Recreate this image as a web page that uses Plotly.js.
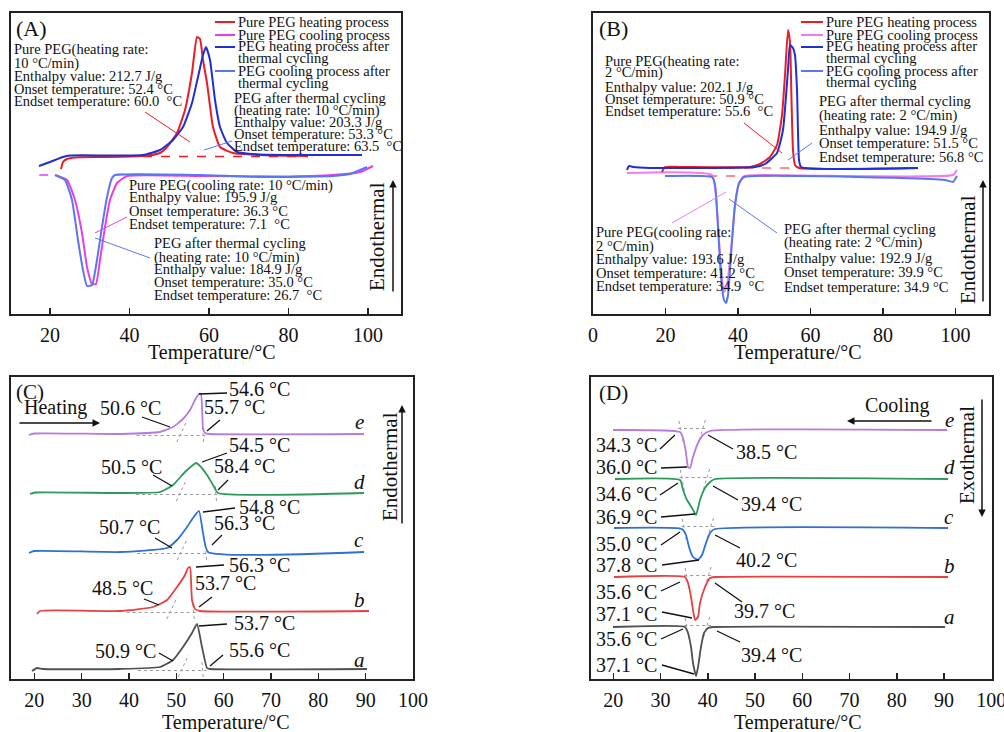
<!DOCTYPE html>
<html><head><meta charset="utf-8">
<script src="https://cdn.plot.ly/plotly-3.0.1.min.js"></script>
<style>html,body{margin:0;padding:0;background:#fff}#chart{width:1004px;height:732px}</style>
</head><body><div id="chart"></div>
<script>
// ================= DATA (temperature in °C, heat flow in arbitrary units) =================
// Panel A : 10 °C/min
const aPureHeatT = [22.77,23.27,24.28,26.29,32.58,43.40,47.67,49.43,51.95,53.96,55.72,56.98,57.74,58.49,59.50,61.01,62.77,66.04,72.83,84.91];
const aPureHeatY = [14.5,15.2,15.5,15.65,15.7,15.8,16.1,16.7,18.1,20.4,24.1,27.7,27.5,25.4,23.1,18.7,16.7,16.1,15.9,15.8];
const aCycHeatT = [17.23,20.0,23.27,25.03,43.40,47.67,50.94,53.46,55.72,57.23,58.49,59.25,60.25,61.51,62.77,64.53,67.04,72.83,98.49];
const aCycHeatY = [14.8,15.2,15.7,15.85,15.9,16.4,17.4,18.7,21.1,23.7,25.9,26.7,25.4,21.4,18.7,17.1,16.2,15.95,15.9];
const aPureCoolT = [21.26,24.28,26.29,28.05,29.31,30.57,31.57,32.58,33.84,35.09,36.86,39.37,57.74,77.86,91.19,97.99,101.26];
const aPureCoolY = [13.9,13.4,11.4,8.1,4.7,3.0,3.0,5.4,8.7,11.4,13.1,13.8,13.8,13.75,13.9,14.2,14.8];
const aCycCoolT = [21.26,23.77,25.53,27.04,28.30,29.31,30.57,31.82,33.08,34.34,35.60,36.35,57.74,74.59,91.19,95.47,99.75];
const aCycCoolY = [13.9,13.4,11.4,7.4,4.4,2.8,2.9,5.4,8.7,11.7,13.6,13.9,13.9,13.7,13.8,14.0,14.7];
const aHeatBaseT = [43.4, 84.9], aHeatBaseY = [15.75, 15.75];
const aCoolBaseT = [17.3, 21.3], aCoolBaseY = [13.9, 13.9];
const aCoolBase2T = [36.5, 43.4], aCoolBase2Y = [13.95, 13.95];

// Panel B : 2 °C/min
const bPureHeatT = [19.03,19.86,24.0,43.31,46.07,48.83,50.76,52.14,52.97,53.79,54.34,54.76,55.17,55.72,56.83,89.66];
const bPureHeatY = [14.2,14.7,14.7,14.7,15.0,15.7,16.9,19.9,23.9,28.4,27.2,21.4,16.4,14.9,14.6,14.6];
const bCycHeatT = [9.38,9.93,11.03,15.72,44.69,47.45,50.76,52.41,53.79,54.34,55.17,55.72,56.28,56.83,57.38,89.66];
const bCycHeatY = [14.4,14.8,14.7,14.6,14.7,15.0,16.1,18.4,24.4,26.9,26.6,25.9,22.4,15.4,14.7,14.6];
const bPureCoolT = [9.38,32.83,33.93,34.76,35.59,36.14,36.97,38.07,39.17,40.28,41.66,57.10,99.31,100.41];
const bPureCoolY = [14.1,13.9,11.9,7.4,3.4,2.2,2.9,6.4,10.9,13.0,13.8,13.85,13.9,14.4];
const bCycCoolT = [19.86,32.83,33.66,34.48,35.31,36.14,36.69,37.24,38.07,39.17,40.28,41.66,84.69,97.10,99.31,100.41];
const bCycCoolY = [13.8,13.7,12.9,8.7,3.7,1.4,1.1,1.9,5.9,10.9,13.1,13.7,13.6,13.4,13.2,13.8];
const bHeatBaseT = [26.8, 55.2], bHeatBaseY = [14.6, 14.6];
const bCoolBaseT = [26.8, 54.3], bCoolBaseY = [13.8, 13.8];

// Panel C : heating curves a–e
const cNames = ['a','b','c','d','e'];
const cT = [
  [19.51,20.57,21.84,38.10,46.55,49.30,51.41,53.31,54.37,55.42,56.48,57.12,90.28],
  [20.57,21.20,38.10,45.07,48.03,50.14,51.83,52.46,52.89,53.31,53.95,55.0,90.70],
  [18.88,19.94,38.10,48.03,50.14,52.26,53.52,54.79,55.63,56.69,89.64],
  [19.09,20.15,38.10,46.55,49.30,51.83,53.52,54.16,54.79,56.48,57.75,58.81,89.64],
  [18.88,19.94,38.10,46.55,49.30,51.41,52.89,53.95,54.79,55.21,55.63,56.05,57.10,89.64]
];
const cY = [
  [0.8,1.1,1.0,1.0,1.2,1.9,3.2,4.6,5.5,3.2,1.1,1.0,1.0],
  [6.5,6.8,6.8,7.2,7.9,9.2,10.4,11.1,11.2,7.9,7.0,6.8,6.8],
  [12.6,12.8,12.7,13.1,13.9,15.2,16.1,16.8,14.6,12.7,12.7],
  [18.5,18.65,18.6,18.7,19.4,20.7,21.4,21.6,21.4,20.4,19.4,18.6,18.6],
  [24.4,24.55,24.5,24.7,25.2,26.0,26.9,27.9,28.5,28.5,25.1,24.6,24.5,24.5]
];
const cBase = [1.0, 6.8, 12.7, 18.6, 24.5];
const cOnset = [50.9, 48.5, 50.7, 50.5, 50.6];
const cPeakLbl = [53.7, 56.3, 54.8, 54.5, 54.6];
const cEndset = [55.6, 53.7, 56.3, 58.4, 55.7];

// Panel D : cooling curves a–e
const dNames = ['a','b','c','d','e'];
const dT = [
  [19.94,35.18,35.81,36.45,36.87,37.51,37.93,38.56,39.20,40.05,41.11,90.22],
  [20.15,35.18,35.81,36.45,36.87,37.30,37.93,38.35,39.41,40.47,41.53,90.86],
  [20.15,34.54,35.39,36.02,36.87,37.93,38.78,39.62,40.47,41.53,90.86],
  [20.36,34.12,34.76,35.60,36.66,37.51,38.35,39.41,40.47,41.53,90.86],
  [19.94,34.12,34.76,35.39,35.81,36.24,36.87,37.93,38.99,40.47,90.64]
];
const dY = [
  [5.2,5.2,4.6,3.2,1.6,0.3,1.2,3.2,4.6,5.1,5.2,5.2],
  [10.2,10.2,9.6,8.2,6.9,5.9,6.2,7.6,9.2,10.1,10.2,10.2],
  [15.1,15.0,14.4,13.2,12.2,11.9,12.4,13.6,14.6,15.0,15.1],
  [20.0,19.9,18.9,17.9,17.1,16.4,17.9,19.1,19.7,20.0,20.0],
  [24.9,24.7,24.1,22.6,21.2,21.1,22.2,23.6,24.4,24.8,24.9]
];
const dBase = [5.2, 10.2, 15.1, 20.0, 24.9];
const dLeftLbl = [35.6, 35.6, 35.0, 34.6, 34.3];
const dPeakLbl = [37.1, 37.1, 37.8, 36.9, 36.0];
const dRightLbl = [39.4, 39.7, 40.2, 39.4, 38.5];

// Tick labels
const tickA = [20,40,60,80,100];
const tickB = [0,20,40,60,80,100];
const tickCD = [20,30,40,50,60,70,80,90,100];

// ================= STYLE / LAYOUT =================
const W = 1004, H = 732;
const FONT = 'Liberation Serif, Times New Roman, serif';
const TXT = '#111';
const col = {red:'#ec1c24', mag:'#e83ee8', blue:'#1f2fd6', lblue:'#5a78ee',
             bmag:'#f07cf0',
             cA:'#505050', cB:'#e8403f', cC:'#2f6fd6', cD:'#2e9a5a', cE:'#b57bde'};
const cColors = [col.cA, col.cB, col.cC, col.cD, col.cE];

function px(x){return x/W;}
function py(y){return 1-y/H;}

const traces = [];
function line(x,y,xa,ya,color,width,dash,name){
  traces.push({type:'scatter',mode:'lines',x:x,y:y,xaxis:xa,yaxis:ya,name:name||'',
    line:{color:color,width:width||2,dash:dash||'solid',shape:'spline',smoothing:0.45},
    showlegend:false,hoverinfo:'skip'});
}
// Panel A
line(aHeatBaseT,aHeatBaseY,'x','y',col.red,1.3,'dash');
line(aCoolBaseT,aCoolBaseY,'x','y',col.mag,1.5,'dash');
line(aCoolBase2T,aCoolBase2Y,'x','y',col.lblue,1.5,'dash');
line(aPureHeatT,aPureHeatY,'x','y',col.red,2,null,'Pure PEG heating process');
line(aCycHeatT,aCycHeatY,'x','y',col.blue,2,null,'PEG heating process after thermal cycling');
line(aPureCoolT,aPureCoolY,'x','y',col.mag,2,null,'Pure PEG cooling process');
line(aCycCoolT,aCycCoolY,'x','y',col.lblue,2,null,'PEG cooling process after thermal cycling');
// Panel B
line(bHeatBaseT,bHeatBaseY,'x2','y2',col.red,1.2,'dash');
line(bCoolBaseT,bCoolBaseY,'x2','y2',col.red,1.2,'dash');
line(bPureCoolT,bPureCoolY,'x2','y2',col.bmag,2,null,'Pure PEG cooling process');
line(bCycCoolT,bCycCoolY,'x2','y2',col.lblue,2,null,'PEG cooling process after thermal cycling');
line(bPureHeatT,bPureHeatY,'x2','y2',col.red,2,null,'Pure PEG heating process');
line(bCycHeatT,bCycHeatY,'x2','y2',col.blue,2,null,'PEG heating process after thermal cycling');
// Panel C
for(let i=0;i<5;i++) line(cT[i],cY[i],'x3','y3',cColors[i],1.8,null,cNames[i]);
// Panel D
for(let i=0;i<5;i++) line(dT[i],dY[i],'x4','y4',cColors[i],1.8,null,dNames[i]);

const shapes = [];
function seg(x0,y0,x1,y1,color,w,dash){
  shapes.push({type:'line',xref:'paper',yref:'paper',x0:px(x0),y0:py(y0),x1:px(x1),y1:py(y1),
    line:{color:color,width:w||1,dash:dash||'solid'}});
}
function dseg(xa,ya,x0,y0,x1,y1){
  shapes.push({type:'line',xref:xa,yref:ya,x0:x0,y0:y0,x1:x1,y1:y1,layer:'below',
    line:{color:'#9a9a9a',width:1,dash:'dot'}});
}
// tangent construction lines (C, D)
for(let i=0;i<5;i++){
  const b=cBase[i];
  dseg('x3','y3',cOnset[i]-9,b-0.15,cEndset[i]+0.8,b-0.15);
  dseg('x3','y3',cOnset[i]-0.5,b-0.8,cOnset[i]+1.7,b+1.4);
  dseg('x3','y3',cEndset[i]-0.2,b+0.7,cEndset[i]+0.1,b-0.9);
  const d=dBase[i];
  dseg('x4','y4',dLeftLbl[i]-0.6,d+0.15,dRightLbl[i]+1.4,d+0.15);
  dseg('x4','y4',dLeftLbl[i]-0.4,d+0.9,dLeftLbl[i]+0.5,d-1.3);
  dseg('x4','y4',dRightLbl[i]+1.0,d+1.0,dRightLbl[i]-0.5,d-1.3);
}

// Leader lines A
seg(145,112,190,142,col.red,1);
seg(204,150,232,141,col.lblue,1);
seg(95,233,127,217,col.mag,1);
seg(95,238,150,258,col.lblue,1);
// Legend swatches A
seg(215,22,235,22,col.red,2); seg(215,35,235,35,col.mag,2);
seg(215,47,235,47,col.blue,2); seg(215,71,235,71,col.lblue,2);
// Leader lines B
seg(744,123,782,153,col.red,1);
seg(788,160,812,143,col.lblue,1);
seg(672,223,726,192,col.bmag,1);
seg(729,199,777,233,col.lblue,1);
// Legend swatches B
seg(801,22,823,22,col.red,2); seg(801,35,823,35,col.bmag,2);
seg(801,47,823,47,col.blue,2); seg(801,71,823,71,col.lblue,2);
// Leader lines C
const K='#111';
[[199,394,227,393],[142,417,170,427],[207,431,220,420],
 [202,462,227,453],[218,490,228,480],[153,475,172,486],
 [203,512,235,508],[212,545,222,535],[155,538,172,548],
 [196,567,224,565],[199,607,212,597],[144,599,159,605],
 [199,626,227,624],[210,666,223,655],[159,653,173,661]].forEach(s=>seg(s[0],s[1],s[2],s[3],K,1.3));
// Leader lines D
[[660,449,675,435],[661,468,687,467],[708,435,733,449],
 [660,495,678,483],[661,517,695,514],[713,486,738,500],
 [661,545,680,532],[662,565,699,560],[715,535,740,548],
 [661,591,680,582],[662,612,692,618],[715,583,742,602],
 [661,639,683,629],[662,665,694,674],[717,631,740,642]].forEach(s=>seg(s[0],s[1],s[2],s[3],K,1.3));

const ann = [];
function T(text,x,y,size,anchor,extra){
  const a = {text:text,xref:'paper',yref:'paper',x:px(x),y:py(y),showarrow:false,
    xanchor:anchor||'left',yanchor:'middle',font:{family:FONT,size:size||14.5,color:TXT},borderpad:0};
  if(extra) Object.assign(a,extra);
  ann.push(a);
}
function block(lines,x,ys,size){lines.forEach((l,i)=>T(l,x,ys[i],size));}
function arrow(hx,hy,tx,ty){
  ann.push({text:'',xref:'paper',yref:'paper',x:px(hx),y:py(hy),ax:tx-hx,ay:ty-hy,
    showarrow:true,arrowhead:2,arrowsize:1,arrowwidth:1.5,arrowcolor:'#111',standoff:0,startstandoff:0});
}
const deg = ' °C';
const sp2 = '\u00a0 °C';
// Panel A
T('(A)',15,28,22);
block(['Pure PEG(heating rate:','10 °C/min)','Enthalpy value: 212.7 J/g','Onset temperature: 52.4 °C','Endset temperature: 60.0'+sp2],13,[50,63,76,89,101]);
block(['Pure PEG heating process','Pure PEG cooling process','PEG heating process after','thermal cycling','PEG cooling process after','thermal cycling'],237,[22,35,46,58,71,83]);
block(['PEG after thermal cycling','(heating rate: 10 °C/min)','Enthalpy value: 203.3 J/g','Onset temperature: 53.3 °C','Endset temperature: 63.5'+sp2],233,[98,110,122,134,146]);
block(['Pure PEG(cooling rate: 10 °C/min)','Enthalpy value: 195.9 J/g','Onset temperature: 36.3 °C','Endset temperature: 7.1'+sp2],128,[185,197,211,224]);
block(['PEG after thermal cycling','(heating rate: 10 °C/min)','Enthalpy value: 184.9 J/g','Onset temperature: 35.0 °C','Endset temperature: 26.7'+sp2],153,[243,257,269,282,295]);
T('Endothermal',377,237,21,'center',{textangle:-90});
arrow(393,180,393,293);
T('Temperature/°C',212,353,20,'center');
// Panel B
T('(B)',598,29,22);
block(['Pure PEG heating process','Pure PEG cooling process','PEG heating process after','thermal cycling','PEG cooling process after','thermal cycling'],825,[22,35,46,58,71,82]);
block(['Pure PEG(heating rate:','2 °C/min)','Enthalpy value: 202.1 J/g','Onset temperature: 50.9 °C','Endset temperature: 55.6'+sp2],604,[62,73,87,99,111]);
block(['PEG after thermal cycling','(heating rate: 2 °C/min)','Enthalpy value: 194.9 J/g','Onset temperature: 51.5 °C','Endset temperature: 56.8 °C'],818,[101,116,130,143,157]);
block(['Pure PEG(cooling rate:','2 °C/min)','Enthalpy value: 193.6 J/g','Onset temperature: 41.2 °C','Endset temperature: 34.9'+sp2],595,[232,246,259,273,286]);
block(['PEG after thermal cycling','(heating rate: 2 °C/min)','Enthalpy value: 192.9 J/g','Onset temperature: 39.9 °C','Endset temperature: 34.9 °C'],783,[229,243,258,272,287]);
T('Endothermal',968,250,21,'center',{textangle:-90});
arrow(983,180,983,303);
T('Temperature/°C',798,353,20,'center');
// Panel C
T('(C)',15,392,21);
T('Heating',23,408,20);
arrow(100,423,18,423);
const cPeakXY=[[233,623],[228,565],[238,507],[228,445],[228,389]];
const cEndXY=[[228,650],[194,583],[213,523],[213,466],[203,407]];
const cOnXY=[[94,651],[91,588],[98,527],[100,467],[99,408]];
const cLetY=[660,600,540,482,422];
for(let i=0;i<5;i++){
  T(cPeakLbl[i].toFixed(1)+deg,cPeakXY[i][0],cPeakXY[i][1],20);
  T(cEndset[i].toFixed(1)+deg,cEndXY[i][0],cEndXY[i][1],20);
  T(cOnset[i].toFixed(1)+deg,cOnXY[i][0],cOnXY[i][1],20);
  T('<i>'+cNames[i]+'</i>',359,cLetY[i],21,'center');
}
T('Endothermal',390,467,21,'center',{textangle:-90});
arrow(402,405,402,525);
T('Temperature/°C',226,722,20,'center');
// Panel D
T('(D)',598,393,21);
T('Cooling',864,406,20);
arrow(847,421,933,421);
const dLeftY=[639,592,544,494,445];
const dPeakY=[665,614,565,517,467];
const dRightXY=[[740,655],[733,611],[735,560],[740,504],[735,452]];
const dLetY=[617,566,517,467,420];
for(let i=0;i<5;i++){
  T(dLeftLbl[i].toFixed(1)+deg,595,dLeftY[i],20);
  T(dPeakLbl[i].toFixed(1)+deg,595,dPeakY[i],20);
  T(dRightLbl[i].toFixed(1)+deg,dRightXY[i][0],dRightXY[i][1],20);
  T('<i>'+dNames[i]+'</i>',949,dLetY[i],21,'center');
}
T('Exothermal',967,455,21,'center',{textangle:-90});
arrow(982,517,982,398);
T('Temperature/°C',798,722,20,'center');

function xax(dom,range,ticks,anchor){
  return {domain:dom,range:range,tickvals:ticks,ticktext:ticks.map(String),ticks:'inside',ticklen:6,tickwidth:1.5,
    tickcolor:'#222',showline:true,mirror:true,linewidth:2,linecolor:'#222',showgrid:false,zeroline:false,
    tickfont:{family:FONT,size:20,color:TXT},anchor:anchor,ticklabelstandoff:2,ticklabeloverflow:'allow',fixedrange:true};
}
function yax(dom,range,anchor){
  return {domain:dom,range:range,showticklabels:false,ticks:'',showline:true,mirror:true,linewidth:2,
    linecolor:'#222',showgrid:false,zeroline:false,anchor:anchor,fixedrange:true};
}
const topY=[py(314),py(13)], botY=[py(679),py(377)];
const layout = {
  width:W,height:H,margin:{l:0,r:0,t:0,b:0},paper_bgcolor:'#fff',plot_bgcolor:'#fff',showlegend:false,
  xaxis: xax([px(11),px(401)],[10.19,108.30],tickA,'y'),
  yaxis: yax(topY,[0,30.1],'x'),
  xaxis2:xax([px(593),px(989)],[0,109.24],tickB,'y2'),
  yaxis2:yax(topY,[0,30.1],'x2'),
  xaxis3:xax([px(11),px(413.3)],[15.08,100.05],tickCD,'y3'),
  yaxis3:yax(botY,[0,30.2],'x3'),
  xaxis4:xax([px(591),px(991.5)],[15.28,100.05],tickCD,'y4'),
  yaxis4:yax(botY,[0,30.2],'x4'),
  shapes:shapes, annotations:ann
};
Plotly.newPlot('chart',traces,layout,{staticPlot:true,displayModeBar:false});
</script></body></html>
